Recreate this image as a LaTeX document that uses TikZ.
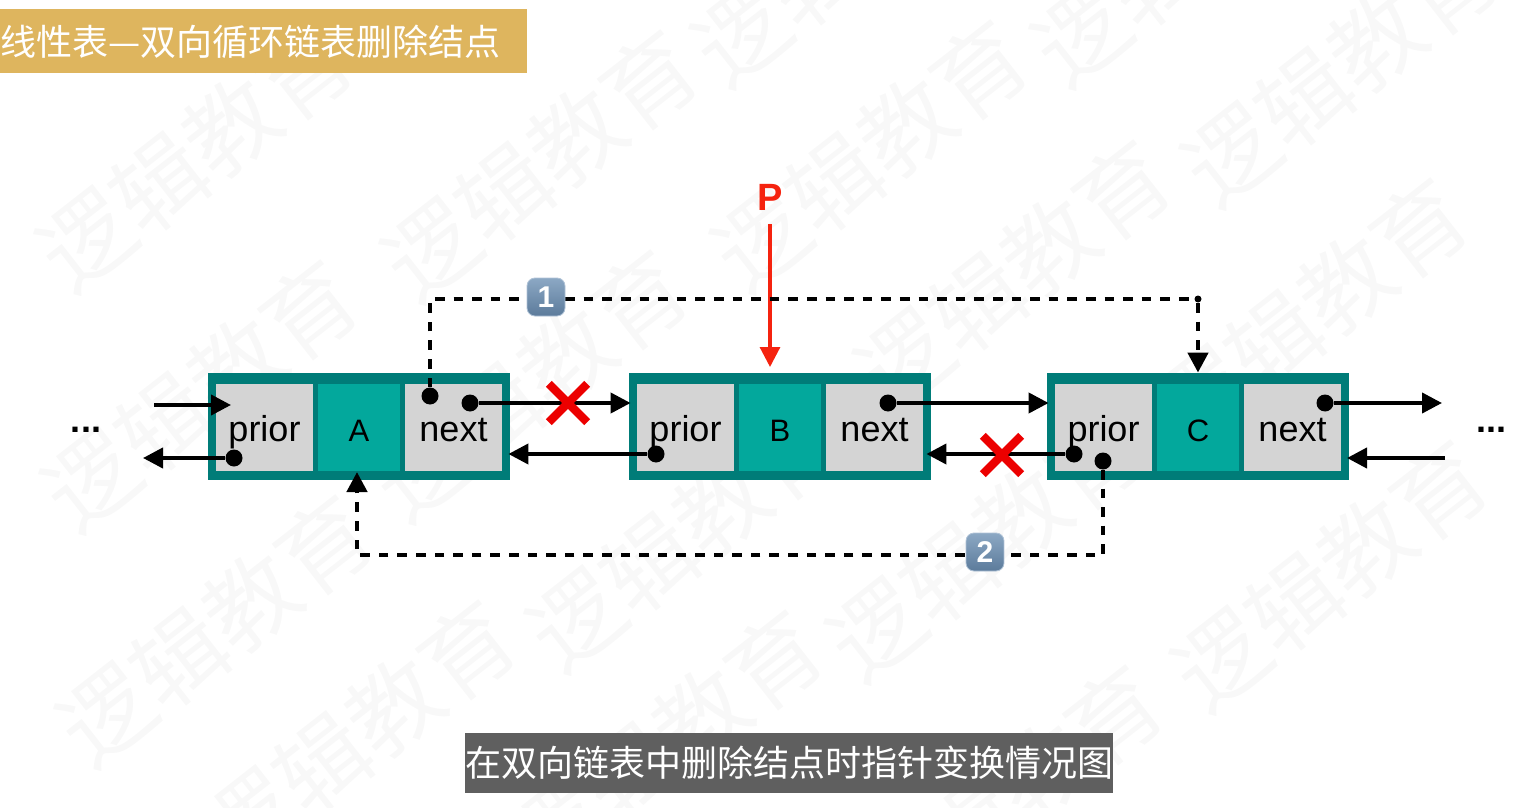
\documentclass[tikz,border=0pt]{standalone}
\usepackage{fontspec}
\setmainfont{Liberation Sans}
\newfontfamily\cjk{Noto Sans CJK SC}
\usetikzlibrary{arrows.meta, shapes.misc}
\definecolor{Frame}{HTML}{007C78}
\definecolor{Data}{HTML}{03A89C}
\definecolor{Cell}{HTML}{D4D4D4}
\definecolor{Gold}{HTML}{DEB55E}
\definecolor{Slate}{HTML}{5F5F5F}
\definecolor{PRed}{HTML}{F5230F}
\definecolor{XRed}{HTML}{EC0000}
\definecolor{Mark}{HTML}{F8F8F8}
\definecolor{BadgeTop}{HTML}{8CA8C4}
\definecolor{BadgeBot}{HTML}{5C7B9B}

\begin{document}
\begin{tikzpicture}[x=0.5pt, y=-0.5pt, >={Triangle[length=10pt, width=10pt]},
    framebox/.style={fill=Frame, minimum width=151pt, minimum height=53.5pt, inner sep=0pt},
    cellbox/.style={fill=Cell, minimum width=48.5pt, minimum height=43.5pt, inner sep=0pt,
      text height=19pt, text depth=5pt, font=\fontsize{18}{20}\selectfont},
    databox/.style={fill=Data, minimum width=41pt, minimum height=43.5pt, inner sep=0pt,
      text height=18pt, text depth=4pt, font=\fontsize{15.5}{18}\selectfont},
    ptrdot/.style={circle, fill=black, minimum size=8.5pt, inner sep=0pt},
    turndot/.style={circle, fill=black, minimum size=3.5pt, inner sep=0pt},
    link/.style={->, line width=2pt},
    newlink/.style={line width=2.2pt, dash pattern=on 4.8pt off 4.5pt},
    delmark/.style={cross out, draw=XRed, line width=4.2pt, minimum size=15pt, inner sep=0pt},
    badge/.style={rounded corners=4pt, top color=BadgeTop, bottom color=BadgeBot, draw=BadgeTop!70!white,
      line width=0.4pt, minimum size=19pt, inner sep=0pt, text=white,
      font=\bfseries\fontsize{15}{18}\selectfont},
    banner/.style={inner sep=0pt, text=white, font=\cjk\fontsize{18}{22}\selectfont},
    more/.style={inner sep=0pt, font=\bfseries\fontsize{18}{20}\selectfont}]
  \useasboundingbox (0,0) rectangle (1532,808);

  \begin{scope}
    \clip (0,0) rectangle (1532,808);
    \foreach \mx/\my [count=\i] in {195/155, 540/165, 870/155, 1190/-50, 850/-50, 1340/70,
        200/395, 530/385, 1013/275, 1310/313, 215/630, 685/535, 985/545, 1330/575,
        358/735, 665/745, 1005/800} {
      \node[rotate=38, text=Mark, inner sep=0pt, font=\cjk\fontsize{46}{50}\selectfont] (mark\i) at (\mx,\my) {逻辑教育};
    }
  \end{scope}

  \node[banner, fill=Gold, anchor=north west, text width=263.5pt, minimum height=32pt, align=left] (title) at (0,9) {线性表—双向循环链表删除结点};
  \node[banner, fill=Slate, minimum width=315pt, minimum height=30pt] (caption) at (789,763) {在双向链表中删除结点时指针变换情况图};

  \foreach \nm/\cx in {A/359, B/780, C/1198} {
    \node[framebox] (frame\nm) at (\cx,426.5) {};
    \node[cellbox] (prior\nm) at (\cx-94.5,427) {prior};
    \node[databox] (data\nm) at (\cx,427.5) {\nm};
    \node[cellbox] (next\nm) at (\cx+94.5,427.5) {next};
  }

  \node[more] (moreL) at (86,430) {...};
  \node[more] (moreR) at (1491,430) {...};

  \node[ptrdot] (dotAprior) at (234,458) {};
  \node[ptrdot] (dotAnext) at (470,403) {};
  \node[ptrdot] (dotAup) at (430,396) {};
  \node[ptrdot] (dotBprior) at (656,454) {};
  \node[ptrdot] (dotBnext) at (888,403) {};
  \node[ptrdot] (dotCprior) at (1074,454) {};
  \node[ptrdot] (dotCdown) at (1103,461) {};
  \node[ptrdot] (dotCnext) at (1325,403) {};

  \coordinate (inA) at (154,405);
  \coordinate (tipInA) at (231,405);
  \coordinate (outA) at (143,458);
  \coordinate (outC) at (1442,403);
  \coordinate (inC) at (1445,458);
  \coordinate (tipInC) at (1347,458);
  \coordinate (tipA) at (357,472);
  \coordinate (turnA) at (357,555);
  \coordinate (tipP) at (770,367);

  \draw[link] (inA) -- (tipInA);
  \draw[link] (dotAprior) -- (outA);
  \draw[link] (dotAnext) -- ([xshift=1pt]frameB.west |- dotAnext);
  \draw[link] (dotBprior) -- ([xshift=-1pt]frameA.east |- dotBprior);
  \draw[link] (dotBnext) -- ([xshift=1pt]frameC.west |- dotBnext);
  \draw[link] (dotCprior) -- ([xshift=-2.5pt]frameB.east |- dotCprior);
  \draw[link] (dotCnext) -- (outC);
  \draw[link] (inC) -- (tipInC);

  \node[text=PRed, inner sep=0pt, font=\bfseries\fontsize{19}{22}\selectfont] (labelP) at (770,197) {P};
  \draw[->, PRed, line width=1.6pt] ([yshift=-7pt]labelP.south) -- (tipP);

  \node[turndot] (turnC) at (1198,299) {};
  \draw[newlink] (dotAup) |- (turnC);
  \draw[newlink, ->] (turnC) -- (frameC.north);
  \draw[newlink, ->] (dotCdown) |- (turnA) -- (tipA);

  \node[delmark] (crossAB) at (568,403) {};
  \node[delmark] (crossBC) at (1002,455) {};
  \node[badge] (badgeOne) at (546,297) {1};
  \node[badge] (badgeTwo) at (985,552) {2};
\end{tikzpicture}
\end{document}
